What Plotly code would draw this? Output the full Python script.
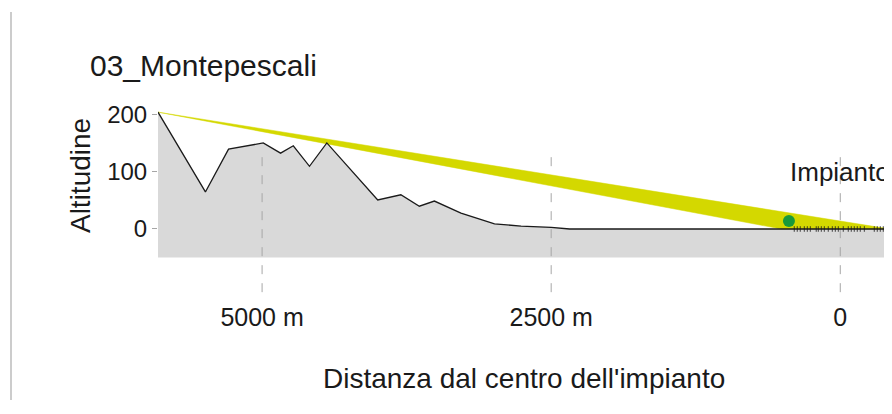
import plotly.graph_objects as go

# terrain profile: distance from plant centre (m) and altitude (m)
dist = [5900, 5490, 5290, 4990, 4840, 4730, 4590, 4440, 4000, 3800, 3640,
        3510, 3280, 2990, 2760, 2500, 2340, 1500, 500, 0, -430]
alt = [205, 65, 140, 151, 133, 146, 110, 151, 51, 60, 40,
       49, 28, 9, 5, 3, 0, 0, 0, 0, 0]

# visibility band (yellow wedge)
band_dist = [5900, -430, 510, 5900]
band_alt = [205, 0, 0, 205]

# plant elements along the ground
plant_dist = [398, 372, 346, 311, 285, 259, 208, 190, 164, 138, 104, 69, 43,
              17, -26, -69, -95, -121, -147, -173, -208, -294, -320, -346,
              -372, -398]
point_dist = [444]
point_alt = [14]

grid_dist = [5000, 2500, 0]
tick_text = ["5000 m", "2500 m", "0"]
y_ticks = [0, 100, 200]

BASE = -50
FONT = "Liberation Sans, Arial, sans-serif"
INK = "#1a1a1a"

fig = go.Figure()

# grey ground
fig.add_trace(go.Scatter(
    x=dist + dist[::-1], y=alt + [BASE] * len(dist),
    fill="toself", fillcolor="#d9d9d9", line=dict(width=0),
    mode="lines", hoverinfo="skip", showlegend=False,
))

# dashed reference lines
for d in grid_dist:
    fig.add_trace(go.Scatter(
        x=[d, d], y=[126, -119], mode="lines",
        line=dict(color="#a6a6a6", width=1, dash="dash"),
        hoverinfo="skip", showlegend=False,
    ))

# yellow band
fig.add_trace(go.Scatter(
    x=band_dist, y=band_alt, fill="toself", fillcolor="#d4d800",
    line=dict(color="#d4d800", width=0.5), mode="lines",
    hoverinfo="skip", showlegend=False,
))

# terrain line
fig.add_trace(go.Scatter(
    x=dist, y=alt, mode="lines", line=dict(color=INK, width=1.3),
    showlegend=False,
))

# plant ticks
fig.add_trace(go.Scatter(
    x=plant_dist, y=[0] * len(plant_dist), mode="markers",
    marker=dict(symbol="line-ns-open", size=4, color=INK,
                line=dict(color="#333333", width=0.8)),
    hoverinfo="skip", showlegend=False,
))

# observation point
fig.add_trace(go.Scatter(
    x=point_dist, y=point_alt, mode="markers",
    marker=dict(color="#18993a", size=12), showlegend=False,
))

fig.add_annotation(x=0, y=100, text="Impianto", showarrow=False,
                   font=dict(size=26, color=INK), yanchor="middle")

# titles
fig.add_annotation(xref="paper", yref="paper", x=-0.0956, y=1.208,
                   text="03_Montepescali", showarrow=False, xanchor="left",
                   yanchor="middle", font=dict(size=30, color=INK))
fig.add_annotation(xref="paper", yref="paper", x=-0.1066, y=0.635,
                   text="Altitudine", textangle=-90, showarrow=False,
                   xanchor="center", yanchor="middle",
                   font=dict(size=28, color=INK))
fig.add_annotation(xref="paper", yref="paper", x=0.5, y=-0.422,
                   text="Distanza dal centro dell'impianto", showarrow=False,
                   xanchor="center", yanchor="middle",
                   font=dict(size=28, color=INK))

# page border on the left
fig.add_shape(type="line", xref="paper", yref="paper",
              x0=-0.2008, x1=-0.2008, y0=-0.536, y1=1.484,
              line=dict(color="#cccccc", width=2))

fig.update_layout(
    width=884, height=406,
    margin=dict(l=150, r=2, t=97, b=117),
    plot_bgcolor="white", paper_bgcolor="white",
    font=dict(family=FONT, color=INK),
    xaxis=dict(range=[5900, -430], tickvals=grid_dist, ticktext=tick_text,
               showgrid=False, zeroline=False, showline=False, ticks="",
               ticklabelstandoff=3, tickfont=dict(size=25)),
    yaxis=dict(range=[-119.3, 217.5], tickvals=y_ticks, showgrid=False,
               zeroline=False, showline=False, ticks="outside", ticklen=5,
               tickcolor="#a6a6a6", tickfont=dict(size=24)),
)

fig.write_html("out.html")
